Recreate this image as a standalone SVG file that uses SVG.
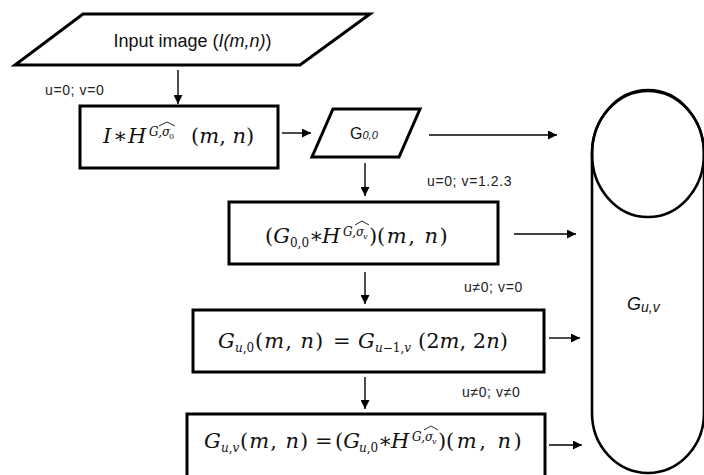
<svg xmlns="http://www.w3.org/2000/svg" width="704" height="475" viewBox="0 0 704 475">
<style>
.shape{fill:#fff;stroke:#000;stroke-width:3;stroke-linejoin:miter}
.thin{fill:none;stroke:#000;stroke-width:2.6}
.conn{stroke:#000;stroke-width:1.4;fill:none;marker-end:url(#ah)}
.lbl{font-family:"Liberation Sans",Arial,sans-serif;font-size:14px;letter-spacing:0.6px;fill:#222}
.sans{font-family:"Liberation Sans",Arial,sans-serif;fill:#111}
.m{font-family:"DejaVu Serif","Liberation Serif",serif;font-size:21px;fill:#111}
.i{font-style:italic}
.sup{font-size:12px}
.sb{font-size:12px}
.ss{font-size:8px}
.hat{fill:none;stroke:#111;stroke-width:0.9}
</style>
<defs>
<marker id="ah" markerUnits="userSpaceOnUse" markerWidth="9" markerHeight="9" viewBox="0 0 10 10" refX="10" refY="5" orient="auto">
<path d="M0,0 L10,5 L0,10 z" fill="#000"/>
</marker>
</defs>

<g id="connectors">
<line class="conn" x1="178" y1="70" x2="178" y2="104"/>
<line class="conn" x1="282" y1="133" x2="311" y2="133"/>
<line class="conn" x1="429" y1="135" x2="557" y2="135"/>
<line class="conn" x1="365" y1="163" x2="365" y2="196"/>
<line class="conn" x1="514" y1="234" x2="576" y2="234"/>
<line class="conn" x1="365" y1="272" x2="365" y2="304"/>
<line class="conn" x1="549" y1="338" x2="580" y2="338"/>
<line class="conn" x1="365" y1="377" x2="365" y2="409"/>
<line class="conn" x1="549" y1="445" x2="582" y2="445"/>
<text class="lbl" x="45" y="95">u=0; v=0</text>
<text class="lbl" x="427" y="186">u=0; v=1.2.3</text>
<text class="lbl" x="464" y="292">u≠0; v=0</text>
<text class="lbl" x="462" y="397">u≠0; v≠0</text>
</g>

<g id="input">
<polygon class="shape" points="83,14 370,14 300,65 15,65"/>
<text class="sans" x="192.5" y="47" font-size="18" text-anchor="middle">Input image (<tspan font-style="italic">I(m,n)</tspan>)</text>
</g>

<g id="box1">
<rect class="shape" x="80" y="106" width="198" height="62"/>
<text class="m" y="143"><tspan x="103" class="i">I</tspan><tspan x="113">∗</tspan><tspan x="128" class="i">H</tspan><tspan x="149" y="136" class="i sup">G,σ</tspan><tspan x="169" y="139" class="ss">0</tspan><tspan x="191" y="143">(</tspan><tspan class="i">m</tspan><tspan>, </tspan><tspan class="i">n</tspan><tspan>)</tspan></text>
<path class="hat" d="M159,126 L167,122 L175,126"/>
</g>

<g id="g00">
<polygon class="shape" points="333,109 420,109 399,157 312,157"/>
<text class="sans" x="350" y="139" font-size="16">G<tspan font-size="11" font-style="italic">0,0</tspan></text>
</g>

<g id="box2">
<rect class="shape" x="229" y="202" width="269" height="62"/>
<text class="m" y="243"><tspan x="265">(</tspan><tspan class="i">G</tspan><tspan class="sb" y="247">0,0</tspan><tspan x="309" y="243">∗</tspan><tspan x="322" class="i">H</tspan><tspan x="343" y="236" class="i sup">G,σ</tspan><tspan x="363" y="239" class="i ss">v</tspan><tspan x="369" y="243">)</tspan><tspan x="377" letter-spacing="1.5">(</tspan><tspan class="i" letter-spacing="1.5">m</tspan><tspan letter-spacing="1.5">, </tspan><tspan class="i" letter-spacing="1.5">n</tspan><tspan>)</tspan></text>
<path class="hat" d="M355,225 L362,221 L369,225"/>
</g>

<g id="box3">
<rect class="shape" x="193" y="310" width="351" height="62"/>
<text class="m" y="348"><tspan x="218" class="i">G</tspan><tspan x="235" y="352" class="sb i">u</tspan><tspan class="sb" y="352">,0</tspan><tspan x="255" y="348" letter-spacing="1">(</tspan><tspan class="i" letter-spacing="1">m</tspan><tspan letter-spacing="1">, </tspan><tspan class="i" letter-spacing="1">n</tspan><tspan>)</tspan><tspan x="333">=</tspan><tspan x="358" class="i">G</tspan><tspan x="375" y="352" class="sb i">u</tspan><tspan class="sb" y="352">−1,</tspan><tspan class="sb i" y="352">v</tspan><tspan x="418" y="348">(2</tspan><tspan class="i">m</tspan><tspan>, 2</tspan><tspan class="i">n</tspan><tspan>)</tspan></text>
</g>

<g id="box4">
<rect class="shape" x="187" y="414" width="358" height="64"/>
<text class="m" y="448"><tspan x="204" class="i">G</tspan><tspan x="221" y="452" class="sb i">u</tspan><tspan class="sb" y="452">,</tspan><tspan class="sb i" y="452">v</tspan><tspan x="240" y="448" letter-spacing="1">(</tspan><tspan class="i" letter-spacing="1">m</tspan><tspan letter-spacing="1">, </tspan><tspan class="i" letter-spacing="1">n</tspan><tspan>)</tspan><tspan x="315">=</tspan><tspan x="335">(</tspan><tspan class="i">G</tspan><tspan x="359" y="452" class="sb i">u</tspan><tspan class="sb" y="452">,0</tspan><tspan x="378" y="448">∗</tspan><tspan x="391" class="i">H</tspan><tspan x="412" y="441" class="i sup">G,σ</tspan><tspan x="432" y="444" class="i ss">v</tspan><tspan x="438" y="448">)</tspan><tspan x="446" letter-spacing="2.5">(</tspan><tspan class="i" letter-spacing="2.5">m</tspan><tspan letter-spacing="2.5">, </tspan><tspan class="i" letter-spacing="2.5">n</tspan><tspan>)</tspan></text>
<path class="hat" d="M424,430 L431,426 L438,430"/>
</g>

<g id="storage">
<path class="thin" d="M592,154 A56,64 0 0 1 704,154 L704,413 A56,60 0 0 1 592,413 Z" fill="#fff"/>
<ellipse class="thin" cx="648" cy="154" rx="56" ry="63"/>
<text class="sans" x="627" y="310" font-size="18" font-style="italic">G<tspan font-size="14" dy="2">u,v</tspan></text>
</g>
</svg>
